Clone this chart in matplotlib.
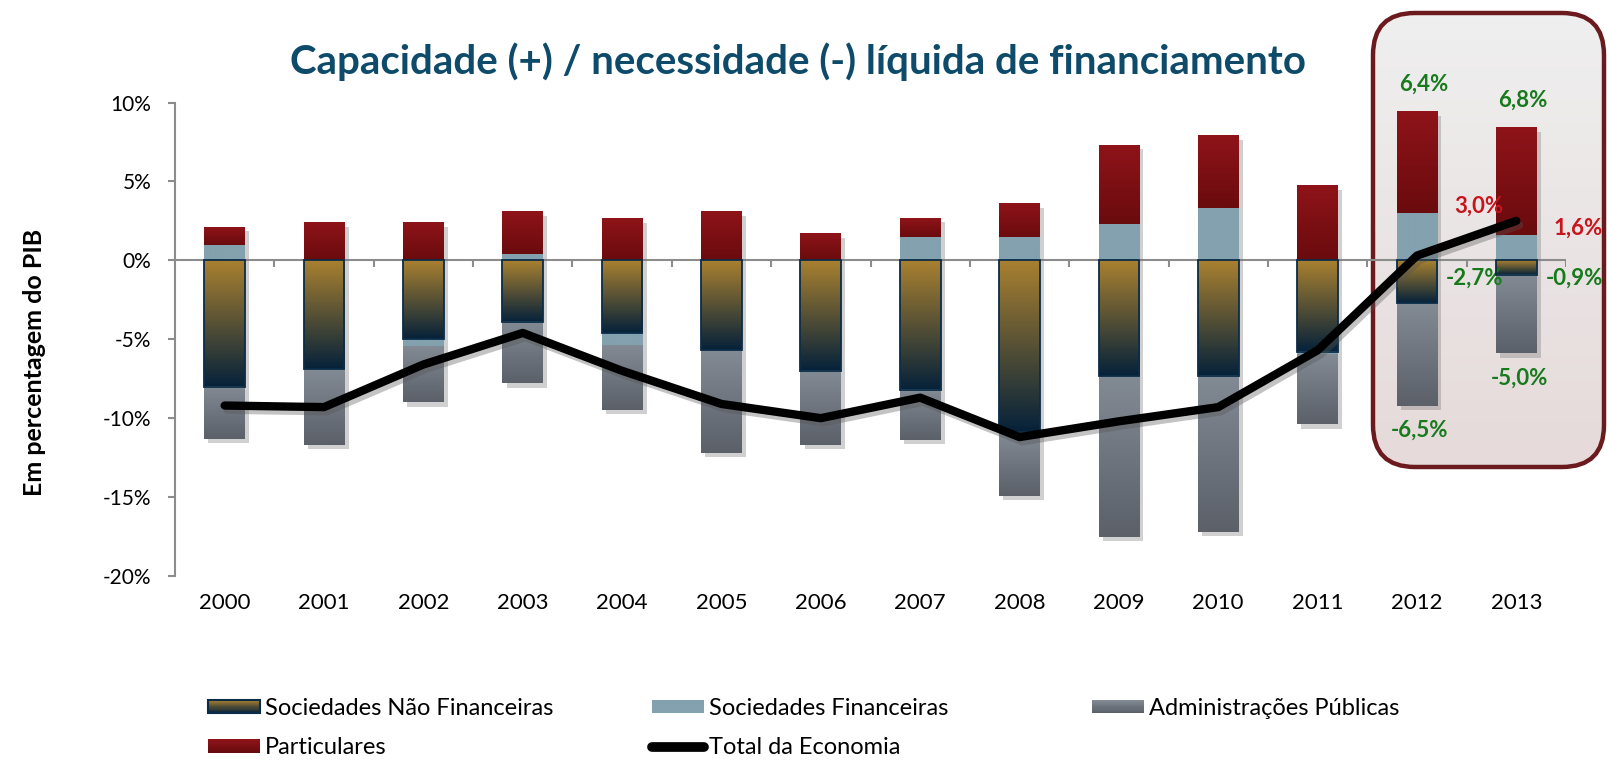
# -*- coding: utf-8 -*-
import numpy as np
import matplotlib
matplotlib.use('Agg')
import matplotlib.pyplot as plt
import matplotlib.patheffects as pe
from matplotlib.colors import LinearSegmentedColormap, to_rgb
from matplotlib.patches import Rectangle, FancyBboxPatch
from matplotlib.lines import Line2D
from matplotlib.legend_handler import HandlerBase

plt.rcParams['font.family'] = ['Lato', 'DejaVu Sans']

# ---- data (% do PIB) ----
years = ['2000', '2001', '2002', '2003', '2004', '2005', '2006',
         '2007', '2008', '2009', '2010', '2011', '2012', '2013']
snf = [-8.0, -6.9, -5.0, -3.9, -4.6, -5.7, -7.0, -8.2, -10.9, -7.3, -7.3, -5.8, -2.7, -0.9]
sf = [1.0, 0.0, -0.5, 0.4, -0.8, 0.0, 0.0, 1.5, 1.5, 2.3, 3.3, -0.2, 3.0, 1.6]
ap = [-3.3, -4.8, -3.5, -3.9, -4.1, -6.5, -4.7, -3.2, -4.0, -10.2, -9.9, -4.4, -6.5, -5.0]
part = [1.1, 2.4, 2.4, 2.7, 2.6, 3.1, 1.7, 1.2, 2.1, 5.0, 4.6, 4.7, 6.4, 6.8]
total = [-9.2, -9.3, -6.6, -4.6, -7.0, -9.1, -10.0, -8.7, -11.2, -10.2, -9.3, -5.7, 0.3, 2.5]
highlight = ['2012', '2013']

names = ['Sociedades Não Financeiras', 'Sociedades Financeiras',
         'Administrações Públicas', 'Particulares', 'Total da Economia']

# gradient colours (top, bottom)
grad = {
    'snf': ('#a88030', '#06223a'),
    'sf': ('#83a1ae', '#83a1ae'),
    'ap': ('#828a93', '#5b6069'),
    'part': ('#8e1419', '#6a0b0e'),
}
GREEN = '#177a1c'
RED = '#c8141c'

W, H = 1608, 761
fig = plt.figure(figsize=(W / 100, H / 100), dpi=100)

# background layer for the highlight box
bg = fig.add_axes([0, 0, 1, 1], zorder=-1)
bg.axis('off')
bx0, by0, bx1, by1, rad = 1373, 13, 1604, 467, 42
box = FancyBboxPatch((bx0 + rad, by0 + rad), bx1 - bx0 - 2 * rad, by1 - by0 - 2 * rad,
                     boxstyle='round,pad=%d' % rad, fc='none', ec='none')
bg.add_patch(box)
boxcmap = LinearSegmentedColormap.from_list('box', ['#efefef', '#e6dada'])
im = bg.imshow(np.linspace(0, 1, 100).reshape(-1, 1), cmap=boxcmap, aspect='auto',
               extent=[bx0, bx1, by1, by0], origin='upper')
im.set_clip_path(box)
bg.add_patch(FancyBboxPatch((bx0 + rad, by0 + rad), bx1 - bx0 - 2 * rad, by1 - by0 - 2 * rad,
                            boxstyle='round,pad=%d' % rad, fc='none', ec='#6b1a1e', lw=3.2))
bg.set_xlim(0, W)
bg.set_ylim(H, 0)

# main axes
ax = fig.add_axes([175 / W, 1 - 576 / H, (1566 - 175) / W, (576 - 102.5) / H])
ax.patch.set_alpha(0)

x = np.arange(len(years))
bw = 0.41
shadow = [pe.SimplePatchShadow(offset=(3, -3), shadow_rgbFace='#7a7a7a', alpha=0.35), pe.Normal()]


def cmap_of(key):
    return LinearSegmentedColormap.from_list(key, list(grad[key]))


def segment(xc, y0, y1, key, edge=None):
    lo, hi = min(y0, y1), max(y0, y1)
    if hi - lo < 1e-9:
        return
    ax.bar(xc, hi - lo, bw, bottom=lo, color=grad[key][1], zorder=2, path_effects=shadow)
    ax.imshow(np.linspace(0, 1, 64).reshape(-1, 1), cmap=cmap_of(key), aspect='auto',
              extent=[xc - bw / 2, xc + bw / 2, lo, hi], origin='upper', zorder=3,
              interpolation='bilinear')
    if edge:
        ax.bar(xc, hi - lo, bw, bottom=lo, fill=False, edgecolor=edge, lw=1.3, zorder=4)


for i in range(len(years)):
    pos = 0.0
    # negatives stacked downward: SNF, SF, AP
    segment(x[i], 0, snf[i], 'snf', edge='#0b2c48')
    neg = snf[i]
    if sf[i] < 0:
        segment(x[i], neg, neg + sf[i], 'sf')
        neg += sf[i]
    segment(x[i], neg, neg + ap[i], 'ap')
    # positives stacked upward: SF, Particulares
    if sf[i] > 0:
        segment(x[i], 0, sf[i], 'sf')
        pos = sf[i]
    segment(x[i], pos, pos + part[i], 'part')

ax.axhline(0, color='#8c8c8c', lw=1.5, zorder=1)
bounds = np.arange(len(years)) + 0.5
ax.vlines(bounds, -0.45, 0, color='#8c8c8c', lw=1.5, zorder=1)

ax.plot(x, total, color='black', lw=6, solid_capstyle='round', zorder=6,
        path_effects=[pe.SimpleLineShadow(offset=(2, -3), shadow_color='#555555', alpha=0.35),
                      pe.Normal()])


def fmt(v):
    return ('%.1f%%' % v).replace('.', ',')


# labels for the highlighted years
for yr in highlight:
    i = years.index(yr)
    top = max(sf[i], 0) + part[i]
    bottom = snf[i] + min(sf[i], 0) + ap[i]
    kw = dict(textcoords='offset points', ha='center', va='center', fontsize=16,
              weight='bold', annotation_clip=False)
    ax.annotate(fmt(part[i]), (x[i], top), xytext=(5, 20), color=GREEN, **kw)
    ax.annotate(fmt(sf[i]), (x[i] + 0.62, sf[i]), xytext=(0, 5), color=RED, **kw)
    ax.annotate(fmt(snf[i]), (x[i] + 0.58, 0), xytext=(0, -13), color=GREEN, **kw)
    ax.annotate(fmt(ap[i]), (x[i], bottom), xytext=(2, -18), color=GREEN, **kw)

ax.set_xlim(-0.5, len(years) - 0.5)
ax.set_ylim(-20, 10)
yt = [-20, -15, -10, -5, 0, 5, 10]
ax.set_yticks(yt)
ax.set_yticklabels(['%d%%' % v for v in yt])
ax.set_xticks(x)
ax.set_xticklabels(years)
ax.tick_params(axis='x', length=0, pad=12, labelsize=16)
ax.tick_params(axis='y', length=5, width=1.5, color='#8c8c8c', pad=12, labelsize=15)
for s in ['top', 'right', 'bottom']:
    ax.spines[s].set_visible(False)
ax.spines['left'].set_color('#8c8c8c')
ax.spines['left'].set_linewidth(1.5)
ax.set_ylabel('Em percentagem do PIB', fontsize=18, weight='bold')
ax.yaxis.set_label_coords(-0.093, 0.45)

fig.text(798 / W, 1 - 62 / H, 'Capacidade (+) / necessidade (-) líquida de financiamento',
         ha='center', va='center', fontsize=29, weight='bold', color='#0e4a6a')


# legend with gradient swatches
class GradHandler(HandlerBase):
    def __init__(self, key, edge=None):
        super().__init__()
        self.key, self.edge = key, edge

    def create_artists(self, legend, orig_handle, xdescent, ydescent, width, height, fontsize, trans):
        c0, c1 = np.array(to_rgb(grad[self.key][0])), np.array(to_rgb(grad[self.key][1]))
        n = 12
        arts = []
        for k in range(n):
            c = c0 + (c1 - c0) * k / (n - 1)
            arts.append(Rectangle((-xdescent, -ydescent + height * (1 - (k + 1) / n)), width,
                                  height / n + 0.2, fc=c, ec='none', transform=trans))
        if self.edge:
            arts.append(Rectangle((-xdescent, -ydescent), width, height, fc='none',
                                  ec=self.edge, lw=1.5, transform=trans))
        return arts


h_snf, h_sf, h_ap, h_part = [Rectangle((0, 0), 1, 1) for _ in range(4)]
h_tot = Line2D([], [], color='black', lw=7, solid_capstyle='round')
hmap = {h_snf: GradHandler('snf', '#0b2c48'), h_sf: GradHandler('sf'),
        h_ap: GradHandler('ap'), h_part: GradHandler('part')}
leg_kw = dict(loc='upper left', frameon=False, fontsize=17, handlelength=2.2,
              handleheight=0.5, handletextpad=0.2, labelspacing=0.78, borderpad=0,
              borderaxespad=0, handler_map=hmap)
fig.legend([h_snf, h_part], [names[0], names[3]], bbox_to_anchor=(208 / W, 1 - 698 / H), **leg_kw)
fig.legend([h_sf, h_tot], [names[1], names[4]], bbox_to_anchor=(652 / W, 1 - 698 / H), **leg_kw)
fig.legend([h_ap], [names[2]], bbox_to_anchor=(1092 / W, 1 - 698 / H), **leg_kw)

fig.savefig('out.png', dpi=100)
